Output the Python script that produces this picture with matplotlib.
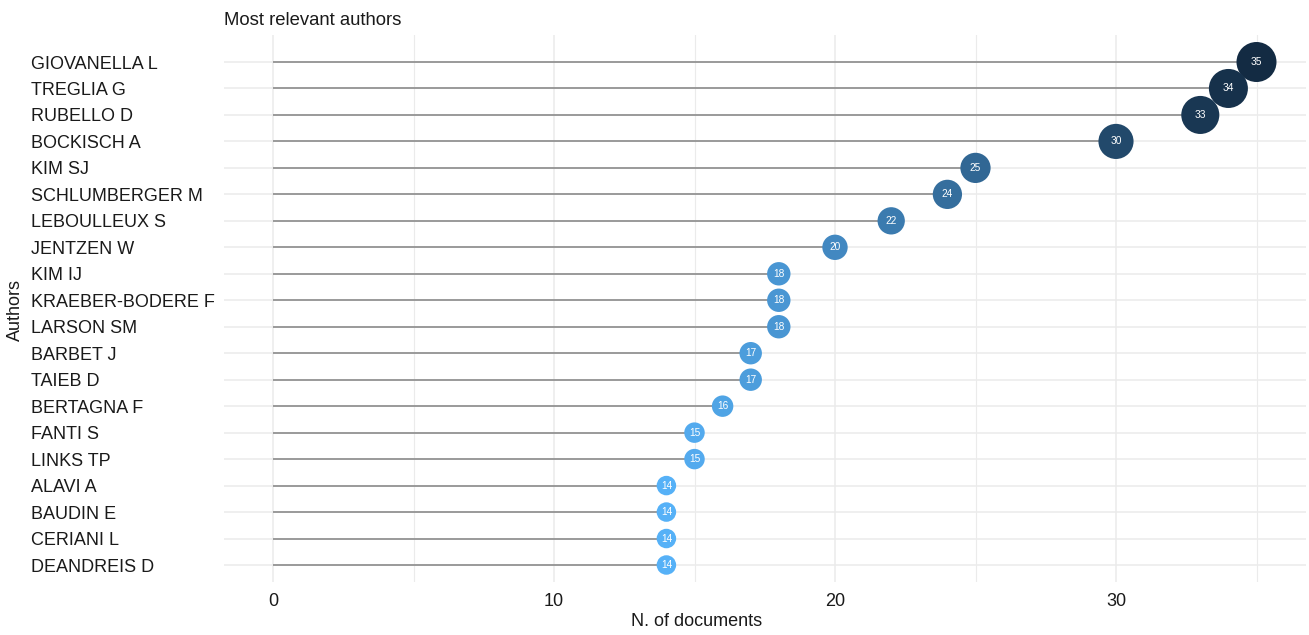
import matplotlib
matplotlib.use("Agg")
import matplotlib.pyplot as plt
from matplotlib.colors import LinearSegmentedColormap, Normalize
import numpy as np

authors = ["GIOVANELLA L", "TREGLIA G", "RUBELLO D", "BOCKISCH A", "KIM SJ",
           "SCHLUMBERGER M", "LEBOULLEUX S", "JENTZEN W", "KIM IJ",
           "KRAEBER-BODERE F", "LARSON SM", "BARBET J", "TAIEB D",
           "BERTAGNA F", "FANTI S", "LINKS TP", "ALAVI A", "BAUDIN E",
           "CERIANI L", "DEANDREIS D"]
docs = [35, 34, 33, 30, 25, 24, 22, 20, 18, 18, 18, 17, 17, 16, 15, 15, 14, 14, 14, 14]
xticks = [0, 10, 20, 30]

plt.rcParams['font.family'] = ['Liberation Sans', 'DejaVu Sans']

W, H = 1309, 635
fig = plt.figure(figsize=(W / 100, H / 100), dpi=100)
x0 = 273
scale = 28.1
xmin, xmax = -1.75, 36.75
left, right = x0 + xmin * scale, x0 + xmax * scale
top, bottom = 35, 582
ax = fig.add_axes([left / W, 1 - bottom / H, (right - left) / W, (bottom - top) / H])

n = len(authors)
ypos = np.arange(n, 0, -1)  # top author at highest position
vals = np.array(docs, dtype=float)

cmap = LinearSegmentedColormap.from_list("gg", ["#56B1F7", "#336A98", "#132B43"])
norm = Normalize(vmin=vals.min(), vmax=vals.max())

# gridlines
for x in [5, 15, 25, 35]:
    ax.axvline(x, color="#EBEBEB", lw=0.8, zorder=0)
for x in xticks:
    ax.axvline(x, color="#EBEBEB", lw=1.1, zorder=0)
for y in ypos:
    ax.axhline(y, color="#EBEBEB", lw=1.1, zorder=0)

ax.hlines(ypos, 0, vals, color="#8C8C8C", lw=1.2, zorder=1)

dmin, dmax = 19.5, 40.0
diam_px = dmin + (vals - vals.min()) / (vals.max() - vals.min()) * (dmax - dmin)
sizes = (diam_px * 0.72) ** 2
ax.scatter(vals, ypos, s=sizes, c=cmap(norm(vals)), zorder=2, linewidths=0)
for v, y in zip(vals, ypos):
    ax.text(v, y, f"{int(v)}", color="white", fontsize=7.3, ha="center", va="center", zorder=3)

ax.set_xlim(xmin, xmax)
yscale = (565 - 62) / (n - 1)
ax.set_ylim(1 - (bottom - 565) / yscale, n + (62 - top) / yscale)

ax.set_xticks(xticks)
ax.set_xticklabels([str(t) for t in xticks])
ax.set_yticks(ypos)
ax.set_yticklabels(authors, ha="left")
ax.tick_params(axis="y", length=0, pad=(left - 31) * 0.72, labelsize=13, labelcolor="#1a1a1a")
ax.tick_params(axis="x", length=0, pad=8, labelsize=13, labelcolor="#1a1a1a")

for s in ax.spines.values():
    s.set_visible(False)

ax.set_title("Most relevant authors", loc="left", fontsize=13.3, color="#1a1a1a", pad=7.5)
ax.set_xlabel("N. of documents", fontsize=13, color="#1a1a1a")
ax.xaxis.set_label_coords((697 - left) / (right - left), -(613 - bottom) / (bottom - top))
ax.set_ylabel("Authors", fontsize=13, color="#1a1a1a")
ax.yaxis.set_label_coords((24 - left) / (right - left), (bottom - 310) / (bottom - top))

fig.savefig("out.png", dpi=100)
